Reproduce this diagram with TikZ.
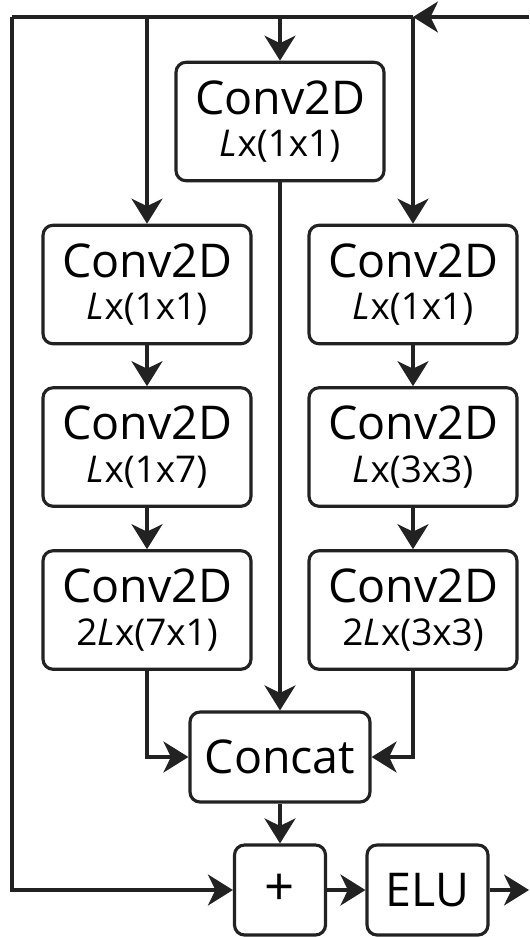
\documentclass[tikz,border=0pt]{standalone}
\usepackage{fontspec}
\setmainfont{Open Sans}
\usetikzlibrary{arrows.meta, positioning}
\definecolor{linecolor}{RGB}{34,34,34}
\newcommand\dims[1]{{\fontsize{21}{21}\selectfont #1}}

\begin{document}
\begin{tikzpicture}[x=0.02cm, y=-0.02cm]
  \tikzset{
    block/.style={
      draw=linecolor,
      line width=1.8pt,
      rounded corners=0.2cm,
      minimum width=4.16cm,
      minimum height=2.37cm,
      inner sep=0pt,
      align=center,
      font=\fontsize{26.5}{24.4}\selectfont
    },
    smallblock/.style={
      block,
      minimum height=1.8cm
    },
    flow/.style={
      draw=linecolor,
      line width=1.8pt,
      -{Stealth[length=0.5cm, width=0.62cm, inset=0.15cm]}
    },
    plain/.style={
      draw=linecolor,
      line width=1.8pt
    }
  }
  \useasboundingbox (0,0) rectangle (529,937);

  % Input line and split points
  \coordinate (in) at (529,17);
  \coordinate (split) at (413,17);
  \coordinate (corner) at (12,17);
  \coordinate (out) at (529,890);

  % Draw the blocks
  \node[block] at (280,121.5) (top) {Conv2D\\\dims{\textit{L}x(1x1)}};

  \node[block] at (147,284.5) (left1) {Conv2D\\\dims{\textit{L}x(1x1)}};
  \node[block] at (147,447) (left2) {Conv2D\\\dims{\textit{L}x(1x7)}};
  \node[block] at (147,610) (left3) {Conv2D\\\dims{2\textit{L}x(7x1)}};

  \node[block] at (413,284.5) (right1) {Conv2D\\\dims{\textit{L}x(1x1)}};
  \node[block] at (413,447) (right2) {Conv2D\\\dims{\textit{L}x(3x3)}};
  \node[block] at (413,610) (right3) {Conv2D\\\dims{2\textit{L}x(3x3)}};

  \node[smallblock, minimum width=3.6cm] at (280,757) (concat) {Concat};
  \node[smallblock, minimum width=1.82cm, font=\fontsize{30}{30}\selectfont] at (280,890) (plus) {+};
  \node[smallblock, minimum width=2.42cm] at (427.5,890) (elu) {ELU};

  % Connectors
  \draw[flow] (in) -- (split);
  \draw[plain] (split) -- (corner);
  \draw[flow] (corner) |- (plus.west);
  \draw[flow] (top.north |- split) -- (top.north);
  \draw[flow] (left1.north |- split) -- (left1.north);
  \draw[flow] (split) -- (right1.north);

  \draw[flow] (left1) -- (left2);
  \draw[flow] (left2) -- (left3);
  \draw[flow] (right1) -- (right2);
  \draw[flow] (right2) -- (right3);

  \draw[flow] (top) -- (concat);
  \draw[flow] (left3.south) |- (concat.west);
  \draw[flow] (right3.south) |- (concat.east);
  \draw[flow] (concat) -- (plus);
  \draw[flow] (plus) -- (elu);
  \draw[flow] (elu) -- (out);
\end{tikzpicture}
\end{document}
